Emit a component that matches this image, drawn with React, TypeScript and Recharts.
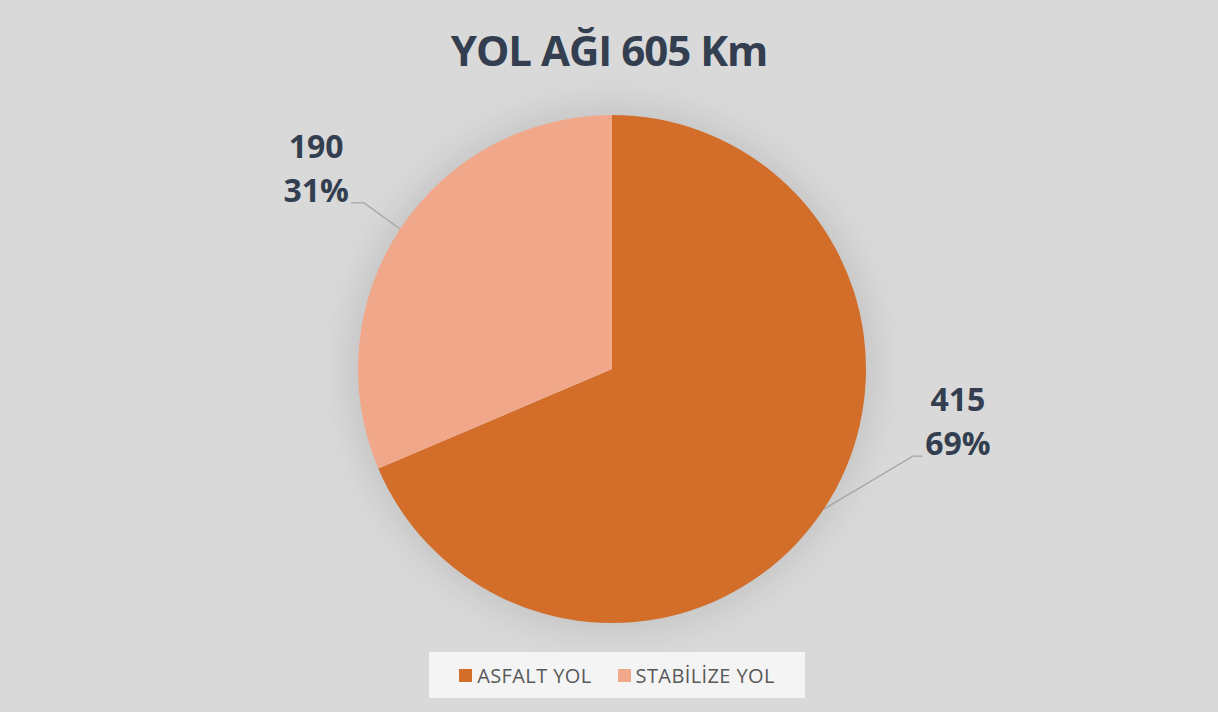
import React from "react";
import { PieChart, Pie, Cell, Legend } from "recharts";

const categories = ["ASFALT YOL", "STABİLİZE YOL"];
const values = [415, 190];
const colors = ["#D26D2A", "#F1A88A"];
const title = "YOL AĞI 605 Km";

const data = categories.map((name, i) => ({ name, value: values[i] }));

const W = 1218;
const H = 712;
const CX = 612;
const CY = 369;
const R = 254;

const RAD = Math.PI / 180;

// label leader geometry per slice: elbow offset from edge point, then horizontal run
const leader = [
  { dx: 89, dy: -53, run: 10, side: 1 },
  { dx: -36, dy: -26, run: -13, side: -1 },
];

const renderLabel = (props: any) => {
  const { cx, cy, midAngle, outerRadius, value, percent, index } = props;
  const ex = cx + outerRadius * Math.cos(-midAngle * RAD);
  const ey = cy + outerRadius * Math.sin(-midAngle * RAD);
  const l = leader[index];
  const bx = ex + l.dx;
  const by = ey + l.dy;
  const hx = bx + l.run;
  const tx = l.side > 0 ? hx + 35 : hx - 35;
  return (
    <g>
      <polyline
        points={`${ex},${ey} ${bx},${by} ${hx},${by}`}
        fill="none"
        stroke="#a6a6a6"
        strokeWidth={1.3}
      />
      <text
        x={tx}
        y={by - 45}
        textAnchor="middle"
        fill="#333F50"
        fontFamily="'Open Sans', sans-serif"
        fontWeight={700}
        fontSize={32}
      >
        {value}
      </text>
      <text
        x={tx}
        y={by - 1}
        textAnchor="middle"
        fill="#333F50"
        fontFamily="'Open Sans', sans-serif"
        fontWeight={700}
        fontSize={32}
      >
        {`${Math.round(percent * 100)}%`}
      </text>
    </g>
  );
};

const LegendBox = () => (
  <div
    style={{
      width: 376,
      height: 46,
      background: "#F4F4F4",
      display: "flex",
      alignItems: "center",
      justifyContent: "center",
      gap: 26,
      fontFamily: "'Open Sans', sans-serif",
      fontSize: 20,
      letterSpacing: 0.4,
      color: "#595959",
      margin: "0 auto",
    }}
  >
    {categories.map((c, i) => (
      <div key={c} style={{ display: "flex", alignItems: "center" }}>
        <span
          style={{
            display: "inline-block",
            width: 13,
            height: 13,
            background: colors[i],
            marginRight: 5,
          }}
        />
        <span>{c}</span>
      </div>
    ))}
  </div>
);

export default function App() {
  return (
    <div
      style={{
        position: "fixed",
        left: 0,
        top: 0,
        width: W,
        height: H,
        background: "#D9D9D9",
        overflow: "hidden",
      }}
    >
      <div
        style={{
          position: "absolute",
          left: 0,
          top: 22,
          width: W,
          textAlign: "center",
          fontFamily: "'Open Sans', sans-serif",
          fontWeight: 700,
          fontSize: 42,
          letterSpacing: -1,
          color: "#333F50",
          lineHeight: "56px",
        }}
      >
        {title}
      </div>
      <div
        style={{
          position: "absolute",
          left: CX - R + 2,
          top: CY - R + 2,
          width: 2 * R - 4,
          height: 2 * R - 4,
          borderRadius: "50%",
          boxShadow: "0 0 36px 10px rgba(0,0,0,0.10)",
        }}
      />
      <div style={{ position: "absolute", left: 0, top: 0 }}>
        <PieChart width={W} height={H} margin={{ top: 0, right: 0, bottom: 0, left: 0 }}>
          <Pie
            data={data}
            dataKey="value"
            nameKey="name"
            cx={CX}
            cy={CY}
            outerRadius={R}
            startAngle={90}
            endAngle={-270}
            stroke="none"
            label={renderLabel}
            labelLine={false}
            isAnimationActive={false}
          >
            {data.map((d, i) => (
              <Cell key={d.name} fill={colors[i]} />
            ))}
          </Pie>
          <Legend
            content={<LegendBox />}
            verticalAlign="bottom"
            wrapperStyle={{ bottom: 14, left: 429, width: 376 }}
          />
        </PieChart>
      </div>
    </div>
  );
}
